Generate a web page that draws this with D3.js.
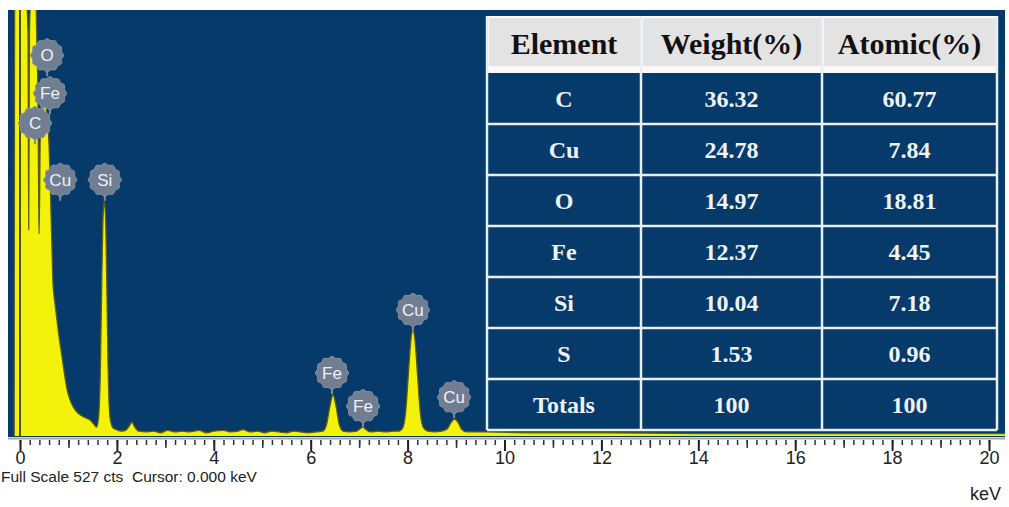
<!DOCTYPE html>
<html>
<head>
<meta charset="utf-8">
<script src="https://cdn.jsdelivr.net/npm/d3@7"></script>
<style>
  html, body { margin: 0; padding: 0; background: #fff; }
  svg { display: block; }
  .tbl { font-family: "Liberation Serif", "Times New Roman", serif; font-weight: 700; }
  .sans { font-family: "Liberation Sans", Arial, sans-serif; }
</style>
</head>
<body>
<div id="chart"></div>
<script>
// EDS spectrum: [energy keV, counts]
const spectrum = [
  [-0.12, 0], [-0.10, 900], [-0.01, 900], [0.02, 900], [0.12, 560], [0.165, 500],
  [0.18, 255], [0.195, 500], [0.23, 560], [0.28, 1200], [0.33, 560], [0.37, 420],
  [0.395, 250], [0.42, 380], [0.47, 410], [0.50, 415], [0.56, 395], [0.60, 360],
  [0.63, 300], [0.66, 230], [0.68, 190], [0.72, 165], [0.76, 145], [0.80, 125],
  [0.85, 105], [0.89, 88], [0.93, 72], [0.97, 58], [1.03, 45], [1.10, 36],
  [1.20, 28], [1.30, 24], [1.44, 20], [1.52, 15], [1.58, 11], [1.62, 22],
  [1.66, 85], [1.69, 200], [1.715, 272], [1.74, 290], [1.765, 272], [1.79, 195],
  [1.82, 80], [1.86, 22], [1.92, 10], [1.98, 8], [2.08, 6], [2.18, 7], [2.25, 12],
  [2.31, 17], [2.37, 11], [2.45, 6], [2.6, 5], [2.75, 6], [2.9, 4], [3.05, 7],
  [3.2, 5], [3.35, 6], [3.5, 5], [3.7, 7], [3.85, 4], [4.0, 6], [4.2, 7],
  [4.35, 5], [4.5, 6], [4.6, 8], [4.75, 5], [4.9, 6], [5.05, 4], [5.2, 6],
  [5.35, 5], [5.5, 4], [5.65, 6], [5.8, 5], [5.95, 4], [6.1, 5], [6.25, 6],
  [6.33, 15], [6.40, 38], [6.46, 51], [6.52, 38], [6.59, 14], [6.67, 6], [6.8, 5],
  [6.95, 6], [7.02, 9], [7.08, 11], [7.14, 8], [7.22, 5], [7.4, 6], [7.55, 5],
  [7.7, 6], [7.82, 6], [7.90, 10], [7.96, 30], [8.02, 80], [8.07, 120], [8.11, 131],
  [8.15, 120], [8.20, 80], [8.26, 30], [8.33, 10], [8.42, 6], [8.55, 5], [8.7, 6],
  [8.82, 9], [8.9, 17], [8.97, 21], [9.04, 17], [9.12, 8], [9.22, 5], [9.6, 5],
  [10.5, 4], [12, 4], [14, 3], [16, 3], [18, 3], [20.4, 3]
];

// peak markers: element, energy of the marker, count level the stem points to
const peakLabels = [
  { el: "O", kev: 0.56, cts: 445 },
  { el: "Fe", kev: 0.62, cts: 398 },
  { el: "C", kev: 0.31, cts: 361 },
  { el: "Cu", kev: 0.83, cts: 291 },
  { el: "Si", kev: 1.75, cts: 291 },
  { el: "Fe", kev: 6.44, cts: 52 },
  { el: "Fe", kev: 7.08, cts: 11 },
  { el: "Cu", kev: 8.11, cts: 130 },
  { el: "Cu", kev: 8.96, cts: 22 }
];

const headers = ["Element", "Weight(%)", "Atomic(%)"];
const elements = ["C", "Cu", "O", "Fe", "Si", "S", "Totals"];
const weightPct = ["36.32", "24.78", "14.97", "12.37", "10.04", "1.53", "100"];
const atomicPct = ["60.77", "7.84", "18.81", "4.45", "7.18", "0.96", "100"];

const fullScale = 527;
const majorTicks = d3.range(0, 21, 2);
const minorTicks = d3.range(0, 101).map((i) => i / 5);

const width = 1009;
const height = 507;
const plot = { left: 8, right: 1005, top: 10, bottom: 437 };
const bg = "#053a6b";

const svg = d3.select("#chart").append("svg")
  .attr("width", width)
  .attr("height", height);

const x = d3.scaleLinear().domain([0, 20]).range([20, 989]);
const y = d3.scaleLinear().domain([0, fullScale]).range([436, 10]);

svg.append("rect")
  .attr("x", plot.left).attr("y", plot.top)
  .attr("width", plot.right - plot.left).attr("height", plot.bottom - plot.top)
  .attr("fill", bg);

svg.append("clipPath").attr("id", "clip")
  .append("rect")
  .attr("x", plot.left).attr("y", plot.top)
  .attr("width", plot.right - plot.left).attr("height", plot.bottom - plot.top);

const g = svg.append("g").attr("clip-path", "url(#clip)");

const area = d3.area()
  .x((d) => x(d[0]))
  .y0(y(0))
  .y1((d) => y(d[1]))
  .curve(d3.curveMonotoneX);

const line = d3.line()
  .x((d) => x(d[0]))
  .y((d) => y(d[1]))
  .curve(d3.curveMonotoneX);

g.append("path").datum(spectrum)
  .attr("d", area)
  .attr("fill", "#f2f20a");

g.append("path").datum(spectrum)
  .attr("d", line)
  .attr("fill", "none")
  .attr("stroke", "#5f5c16")
  .attr("stroke-width", 1.3);

// cursor at 0.000 keV
g.append("line")
  .attr("x1", x(0)).attr("x2", x(0))
  .attr("y1", plot.top).attr("y2", plot.bottom)
  .attr("stroke", "#4e4a20")
  .attr("stroke-width", 2);

// peak markers
const r = 15;
const bump = d3.range(0, 24).map((i) => {
  const a = (i / 24) * Math.PI * 2;
  const rr = i % 2 ? r : r + 1.6;
  return [Math.cos(a) * rr, Math.sin(a) * rr];
});
const markerShape = d3.line().curve(d3.curveCardinalClosed)(bump);

const marker = g.append("g").selectAll("g")
  .data(peakLabels)
  .join("g")
  .attr("transform", (d) => `translate(${x(d.kev)},${y(d.cts) - r - 6})`);

marker.append("line")
  .attr("x1", 0).attr("x2", 0)
  .attr("y1", r).attr("y2", r + 6)
  .attr("stroke", "#7d8a9c")
  .attr("stroke-width", 2);

marker.append("path")
  .attr("d", markerShape)
  .attr("fill", "#717e91")
  .attr("stroke", "#8794a6")
  .attr("stroke-width", 1);

marker.append("text")
  .attr("class", "sans")
  .attr("text-anchor", "middle")
  .attr("dy", "0.36em")
  .attr("font-size", 17)
  .attr("fill", "#eef2f6")
  .text((d) => d.el);

// results table
const tbl = { left: 487, right: 997, top: 16, headBottom: 66, bodyTop: 73, bottom: 430 };
const colEdges = [tbl.left, 641, 822, tbl.right];
const rowBand = d3.scaleBand().domain(elements).range([tbl.bodyTop, tbl.bottom]);
const colMid = (i) => (colEdges[i] + colEdges[i + 1]) / 2;

const t = svg.append("g").attr("class", "tbl");

t.append("rect")
  .attr("x", tbl.left).attr("y", tbl.top)
  .attr("width", tbl.right - tbl.left).attr("height", tbl.bottom - tbl.top)
  .attr("fill", bg);

t.append("rect")
  .attr("x", tbl.left).attr("y", tbl.top)
  .attr("width", tbl.right - tbl.left).attr("height", tbl.bodyTop - tbl.top)
  .attr("fill", "#fafafa");

t.selectAll(".hcell")
  .data(headers)
  .join("rect")
  .attr("x", (d, i) => colEdges[i] + 2)
  .attr("y", tbl.top + 2)
  .attr("width", (d, i) => colEdges[i + 1] - colEdges[i] - 3)
  .attr("height", tbl.headBottom - tbl.top - 2)
  .attr("fill", "#e4e3e4");

t.selectAll(".htext")
  .data(headers)
  .join("text")
  .attr("x", (d, i) => colMid(i))
  .attr("y", (tbl.top + tbl.headBottom) / 2 + 2)
  .attr("dy", "0.35em")
  .attr("text-anchor", "middle")
  .attr("font-size", 30)
  .attr("fill", "#111")
  .text((d) => d);

// grid lines of the body
t.selectAll(".hline")
  .data(elements)
  .join("line")
  .attr("x1", tbl.left).attr("x2", tbl.right)
  .attr("y1", (d) => rowBand(d) + rowBand.bandwidth())
  .attr("y2", (d) => rowBand(d) + rowBand.bandwidth())
  .attr("stroke", "#e9eef3")
  .attr("stroke-width", 2.5);

t.selectAll(".vline")
  .data(colEdges)
  .join("line")
  .attr("x1", (d) => d).attr("x2", (d) => d)
  .attr("y1", tbl.top).attr("y2", tbl.bottom)
  .attr("stroke", "#e9eef3")
  .attr("stroke-width", 2.5);

const columns = [elements, weightPct, atomicPct];
columns.forEach((col, ci) => {
  t.append("g").selectAll("text")
    .data(col)
    .join("text")
    .attr("x", colMid(ci))
    .attr("y", (d, i) => rowBand(elements[i]) + rowBand.bandwidth() / 2)
    .attr("dy", "0.35em")
    .attr("text-anchor", "middle")
    .attr("font-size", 24)
    .attr("fill", "#eef3f8")
    .text((d) => d);
});

// energy axis
svg.append("line")
  .attr("x1", plot.left).attr("x2", plot.right)
  .attr("y1", 438.5).attr("y2", 438.5)
  .attr("stroke", "#a5a5a5")
  .attr("stroke-width", 2);

const axisY = 440;
svg.append("g")
  .attr("transform", `translate(0,${axisY})`)
  .call(d3.axisBottom(x).tickValues(minorTicks).tickSize(5).tickFormat(""))
  .call((a) => a.select(".domain").remove())
  .call((a) => a.selectAll("line").attr("stroke", "#333").attr("stroke-width", 1.5));

svg.append("g")
  .attr("transform", `translate(0,${axisY})`)
  .call(d3.axisBottom(x).tickValues(d3.range(1, 20, 2)).tickSize(8).tickFormat(""))
  .call((a) => a.select(".domain").remove())
  .call((a) => a.selectAll("line").attr("stroke", "#333").attr("stroke-width", 1.5));

svg.append("g")
  .attr("transform", `translate(0,${axisY})`)
  .call(d3.axisBottom(x).tickValues(majorTicks).tickSize(11).tickPadding(0).tickFormat(d3.format("d")))
  .call((a) => a.select(".domain").remove())
  .call((a) => a.selectAll("line").attr("stroke", "#222").attr("stroke-width", 2))
  .call((a) => a.selectAll("text")
    .attr("class", "sans")
    .attr("y", 24)
    .attr("dy", null)
    .attr("font-size", 18)
    .attr("fill", "#222"));

svg.append("text")
  .attr("class", "sans")
  .attr("x", 1).attr("y", 482)
  .attr("font-size", 15.5)
  .attr("fill", "#222")
  .style("white-space", "pre")
  .text("Full Scale " + fullScale + " cts  Cursor: 0.000 keV");

svg.append("text")
  .attr("class", "sans")
  .attr("x", 1001).attr("y", 500)
  .attr("text-anchor", "end")
  .attr("font-size", 18)
  .attr("fill", "#222")
  .text("keV");
</script>
</body>
</html>
